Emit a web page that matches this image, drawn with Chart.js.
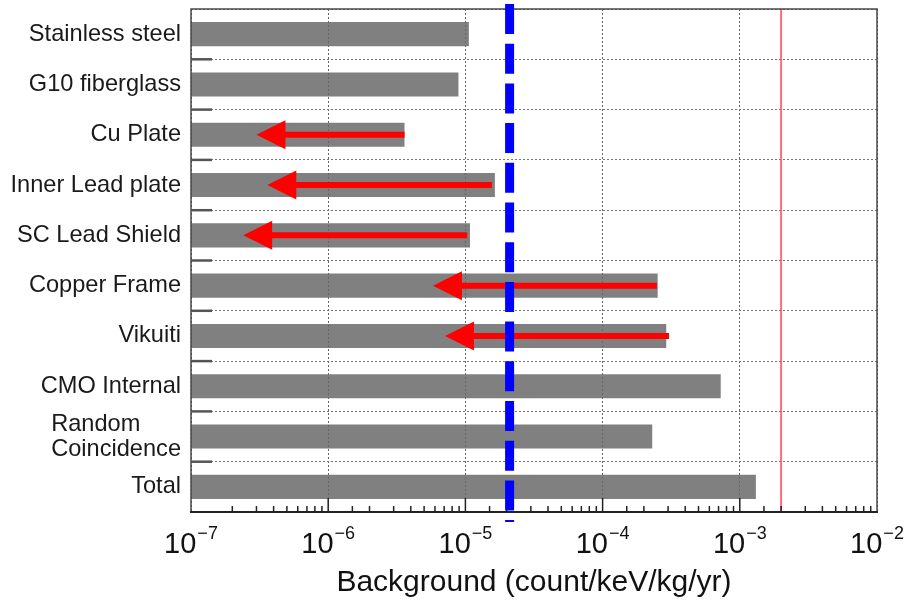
<!DOCTYPE html>
<html>
<head>
<meta charset="utf-8">
<script src="https://cdn.jsdelivr.net/npm/chart.js@4.4.1/dist/chart.umd.min.js"></script>
<style>
  html, body { margin: 0; padding: 0; background: #fff; }
  #wrap { width: 908px; height: 604px; }
</style>
</head>
<body>
<div id="wrap"><canvas id="c" width="908" height="604"></canvas></div>
<script>
// Background contributions per component (count/keV/kg/yr)
const categories = [
  'Stainless steel', 'G10 fiberglass', 'Cu Plate', 'Inner Lead plate', 'SC Lead Shield',
  'Copper Frame', 'Vikuiti', 'CMO Internal', ['Random', 'Coincidence'], 'Total'
];
const backgroundValues = [1.06e-5, 8.9e-6, 3.6e-6, 1.64e-5, 1.08e-5, 2.52e-4, 2.91e-4, 7.26e-4, 2.30e-4, 1.31e-3];

// Components quoted as upper limits: arrow from the limit down to the tip value
const limitCategories = ['Cu Plate', 'Inner Lead plate', 'SC Lead Shield', 'Copper Frame', 'Vikuiti'];
const limitFrom = [3.6e-6, 1.56e-5, 1.03e-5, 2.49e-4, 3.05e-4];
const limitTo   = [3.0e-7, 3.6e-7, 2.4e-7, 5.8e-6, 7.1e-6];

// Decade tick labels of the log axis: base and exponent
const xTickBase = '10';
const xExponents = [-7, -6, -5, -4, -3, -2];
const xExponentLabels = ['\u22127', '\u22126', '\u22125', '\u22124', '\u22123', '\u22122'];

// Reference levels
const dashedLevel = 2.1e-5;   // blue dashed line
const solidLevel  = 2.0e-3;   // red line

const FONT = "'Liberation Sans', Arial, Helvetica, sans-serif";

function isDecade(v) {
  if (!(v > 0)) return false;
  const l = Math.log10(v);
  return Math.abs(l - Math.round(l)) < 1e-6;
}
function labelKey(l) { return Array.isArray(l) ? l.join(' ') : l; }

const overlayPlugin = {
  id: 'overlays',
  afterDraw(chart) {
    const { ctx, chartArea: a, scales: { x, y } } = chart;
    ctx.save();

    // red reference line
    const xr = x.getPixelForValue(solidLevel);
    ctx.strokeStyle = 'rgba(255, 70, 90, 0.8)';
    ctx.lineWidth = 2;
    ctx.beginPath(); ctx.moveTo(xr, a.top); ctx.lineTo(xr, a.bottom); ctx.stroke();

    // upper-limit arrows
    ctx.fillStyle = '#ff0000';
    ctx.strokeStyle = '#ff0000';
    limitCategories.forEach((name, i) => {
      const idx = categories.findIndex(c => labelKey(c) === name);
      const yc = y.getPixelForValue(idx);
      const x0 = x.getPixelForValue(limitFrom[i]);
      const x1 = x.getPixelForValue(limitTo[i]);
      const head = 29, half = 14.5;
      ctx.lineWidth = 6;
      ctx.lineCap = 'butt';
      ctx.beginPath(); ctx.moveTo(x0, yc); ctx.lineTo(x1 + head - 1, yc); ctx.stroke();
      ctx.beginPath();
      ctx.moveTo(x1, yc);
      ctx.lineTo(x1 + head, yc - half);
      ctx.lineTo(x1 + head, yc + half);
      ctx.closePath(); ctx.fill();
    });

    // plot frame
    ctx.setLineDash([]);
    ctx.strokeStyle = '#4a4a4a';
    ctx.lineWidth = 1.5;
    ctx.beginPath();
    ctx.moveTo(a.left, a.bottom); ctx.lineTo(a.left, a.top);
    ctx.lineTo(a.right, a.top); ctx.lineTo(a.right, a.bottom);
    ctx.stroke();
    ctx.strokeStyle = '#222';
    ctx.lineWidth = 2;
    ctx.beginPath(); ctx.moveTo(a.left - 1, a.bottom); ctx.lineTo(a.right + 1, a.bottom); ctx.stroke();

    // inward ticks on the bottom axis
    ctx.strokeStyle = '#222';
    ctx.lineWidth = 1.5;
    x.ticks.forEach(t => {
      const px = x.getPixelForValue(t.value);
      if (px <= a.left + 1 || px >= a.right - 1) return;
      const len = isDecade(t.value) ? 14 : 6;
      ctx.beginPath(); ctx.moveTo(px, a.bottom); ctx.lineTo(px, a.bottom - len); ctx.stroke();
    });

    // decade labels 10^n under the axis
    ctx.fillStyle = '#111';
    ctx.textBaseline = 'alphabetic';
    ctx.textAlign = 'left';
    x.ticks.forEach(t => {
      if (!isDecade(t.value)) return;
      const k = xExponents.indexOf(Math.round(Math.log10(t.value)));
      if (k < 0) return;
      const px = x.getPixelForValue(t.value);
      ctx.font = '29px ' + FONT;
      const wb = ctx.measureText(xTickBase).width;
      ctx.font = '18px ' + FONT;
      const we = ctx.measureText(xExponentLabels[k]).width;
      const x0 = px - (wb + we + 1) / 2;
      ctx.font = '29px ' + FONT;
      ctx.fillText(xTickBase, x0, a.bottom + 41);
      ctx.font = '18px ' + FONT;
      ctx.fillText(xExponentLabels[k], x0 + wb + 1, a.bottom + 27);
    });

    // short solid marks at the category boundaries
    ctx.strokeStyle = '#555';
    ctx.lineWidth = 2.5;
    for (let i = 0; i < categories.length - 1; i++) {
      const yb = (y.getPixelForValue(i) + y.getPixelForValue(i + 1)) / 2;
      ctx.beginPath(); ctx.moveTo(a.left, yb); ctx.lineTo(a.left + 21, yb); ctx.stroke();
    }

    // blue dashed reference line
    const xb = x.getPixelForValue(dashedLevel);
    ctx.strokeStyle = '#0000ff';
    ctx.lineWidth = 9;
    ctx.setLineDash([30, 9.7]);
    ctx.beginPath(); ctx.moveTo(xb, a.top - 5); ctx.lineTo(xb, a.bottom + 10); ctx.stroke();
    ctx.setLineDash([]);

    // category labels
    ctx.fillStyle = '#1a1a1a';
    ctx.font = '23.6px ' + FONT;
    ctx.textBaseline = 'middle';
    const rightEdge = a.left - 10;
    categories.forEach((c, i) => {
      const yc = y.getPixelForValue(i);
      if (Array.isArray(c)) {
        const w = Math.max(...c.map(s => ctx.measureText(s).width));
        ctx.textAlign = 'left';
        const step = 25;
        c.forEach((s, k) => {
          ctx.fillText(s, rightEdge - w, yc + (k - (c.length - 1) / 2) * step);
        });
      } else {
        ctx.textAlign = 'right';
        ctx.fillText(c, rightEdge, yc);
      }
    });
    ctx.restore();
  }
};

new Chart(document.getElementById('c'), {
  type: 'bar',
  data: {
    labels: categories,
    datasets: [{
      data: backgroundValues,
      backgroundColor: '#808080',
      borderWidth: 0,
      barPercentage: 0.48,
      categoryPercentage: 1.0
    }]
  },
  options: {
    indexAxis: 'y',
    responsive: false,
    animation: false,
    devicePixelRatio: 1,
    layout: { padding: { top: 9, right: 31, left: 0, bottom: 0 } },
    plugins: { legend: { display: false }, tooltip: { enabled: false } },
    scales: {
      x: {
        type: 'logarithmic',
        min: 1e-7,
        max: 1e-2,
        afterFit(s) { s.height = 92; s.paddingLeft = 0; s.paddingRight = 0; },
        grid: {
          z: 1,
          drawTicks: false,
          lineWidth: 1,
          color: (ctx) => (ctx.tick && isDecade(ctx.tick.value)) ? '#666' : 'rgba(0,0,0,0)'
        },
        border: { display: false, dash: [2, 2] },
        ticks: { display: false, autoSkip: false },
        title: {
          display: true,
          text: 'Background (count/keV/kg/yr)',
          color: '#111',
          font: { family: FONT, size: 30 },
          padding: { top: 0, bottom: 3 }
        }
      },
      y: {
        type: 'category',
        offset: true,
        afterFit(s) { s.width = 191; },
        grid: { z: 1, offset: true, drawTicks: false, color: '#777', lineWidth: 1 },
        border: { display: false, dash: [2, 2] },
        ticks: { display: false }
      }
    }
  },
  plugins: [overlayPlugin]
});
</script>
</body>
</html>
